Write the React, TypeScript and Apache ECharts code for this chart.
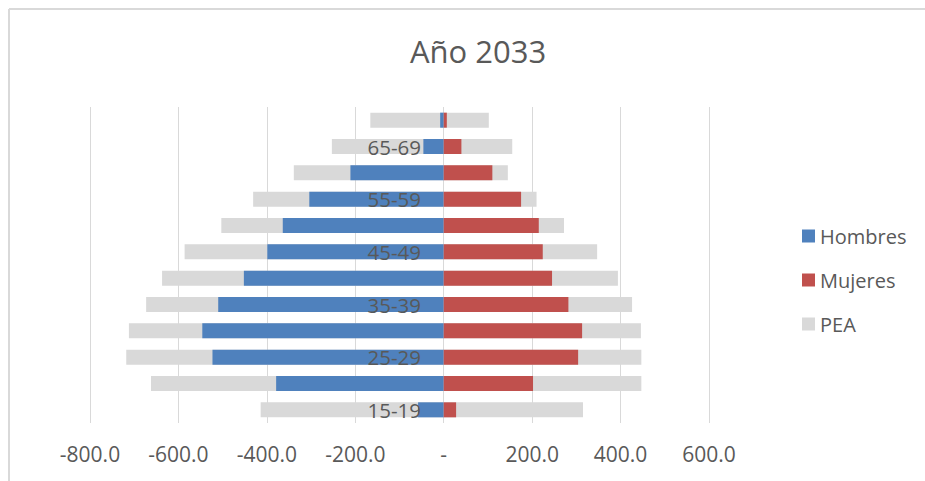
import React, { useEffect, useRef } from "react";
import * as echarts from "echarts";

const categories = ["15-19", "20-24", "25-29", "30-34", "35-39", "40-44", "45-49", "50-54", "55-59", "60-64", "65-69", "70+"];
const hombres = [-58, -379, -523, -546, -510, -452, -399, -364, -304, -211, -46, -8];
const mujeres = [28, 202, 304, 313, 282, 245, 224, 215, 175, 110, 40, 7];
const peaHombres = [-414, -662, -718, -712, -673, -637, -586, -503, -431, -339, -253, -166];
const peaMujeres = [315, 447, 447, 446, 426, 394, 347, 272, 210, 145, 155, 102];
const xTicks = { min: -800, max: 600, interval: 200 };

const FONT = "'Open Sans', sans-serif";
const TEXT = "#595959";
const GRAY = "#D9D9D9";
const BLUE = "#4F81BD";
const RED = "#C0504D";

export default function App() {
  const ref = useRef<HTMLDivElement>(null);
  useEffect(() => {
    if (!ref.current) return;
    const chart = echarts.init(ref.current, null, { renderer: "svg" });
    const barBase = { type: "bar", barWidth: 15, barGap: "-100%", silent: true };
    chart.setOption({
      animation: false,
      textStyle: { fontFamily: FONT },
      title: {
        text: "Año 2033",
        left: 473,
        top: 30,
        textAlign: "center",
        textStyle: { fontFamily: FONT, fontSize: 31, fontWeight: "normal", color: TEXT },
      },
      legend: {
        orient: "vertical",
        left: 802,
        top: 226,
        padding: 0,
        icon: "rect",
        itemWidth: 13,
        itemHeight: 13,
        itemGap: 24,
        data: ["Hombres", "Mujeres", "PEA"],
        textStyle: { fontFamily: FONT, fontSize: 20, color: TEXT, lineHeight: 20 },
      },
      grid: { left: 90, right: 216, top: 107, bottom: 58, containLabel: false },
      xAxis: {
        type: "value",
        min: xTicks.min,
        max: xTicks.max,
        interval: xTicks.interval,
        axisLine: { show: false },
        axisTick: { show: false },
        splitLine: { show: true, lineStyle: { color: GRAY, width: 1 } },
        axisLabel: {
          margin: 20,
          fontSize: 21,
          color: TEXT,
          fontFamily: FONT,
          formatter: (v: number) => (v === 0 ? "-" : v.toFixed(1)),
        },
      },
      yAxis: {
        type: "category",
        data: categories,
        z: 10,
        axisLine: { show: false },
        axisTick: { show: false },
        splitLine: { show: false },
        axisLabel: { interval: 1, margin: -331, fontSize: 20.5, color: TEXT, fontFamily: FONT },
      },
      series: [
        { ...barBase, name: "PEA", data: peaHombres, itemStyle: { color: GRAY } },
        { ...barBase, name: "PEA", data: peaMujeres, itemStyle: { color: GRAY } },
        { ...barBase, name: "Hombres", data: hombres, itemStyle: { color: BLUE } },
        { ...barBase, name: "Mujeres", data: mujeres, itemStyle: { color: RED } },
      ],
      graphic: [
        { type: "line", shape: { x1: 9, y1: 9, x2: 925, y2: 9 }, style: { stroke: GRAY, lineWidth: 2 } },
        { type: "line", shape: { x1: 9, y1: 9, x2: 9, y2: 481 }, style: { stroke: GRAY, lineWidth: 2 } },
      ],
    });
    return () => chart.dispose();
  }, []);
  return <div ref={ref} style={{ position: "absolute", left: 0, top: 0, width: 925, height: 481 }} />;
}
